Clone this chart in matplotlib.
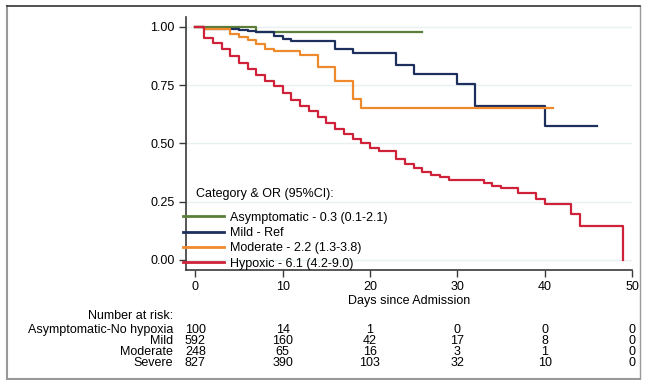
import numpy as np
import matplotlib.pyplot as plt
import matplotlib.transforms as mtransforms
from matplotlib.lines import Line2D

plt.rcParams['font.family'] = ['Liberation Sans', 'DejaVu Sans']

# Kaplan-Meier step data (days, survival)
asym_t = [0, 7, 26]
asym_s = [1.0, 0.977, 0.977]

mild_t = [0, 1, 5, 6, 7, 9, 10, 11, 16, 18, 23, 25, 30, 32, 40, 46]
mild_s = [1.0, 0.99, 0.987, 0.983, 0.976, 0.961, 0.948, 0.937, 0.904, 0.887,
          0.834, 0.798, 0.754, 0.658, 0.575, 0.575]

mod_t = [0, 1, 4, 5, 6, 7, 8, 9, 12, 14, 16, 18, 19, 41]
mod_s = [1.0, 0.99, 0.97, 0.958, 0.941, 0.925, 0.906, 0.894, 0.877, 0.827,
         0.768, 0.69, 0.651, 0.651]

hyp_t = [0, 1, 2, 3, 4, 5, 6, 7, 8, 9, 10, 11, 12, 13, 14, 15, 16, 17, 18, 19,
         20, 21, 23, 24, 25, 26, 27, 28, 29, 33, 34, 35, 37, 39, 40, 43, 44, 49]
hyp_s = [1.0, 0.951, 0.93, 0.904, 0.873, 0.844, 0.818, 0.793, 0.768, 0.744,
         0.715, 0.687, 0.658, 0.637, 0.615, 0.587, 0.56, 0.54, 0.52, 0.5,
         0.48, 0.467, 0.432, 0.412, 0.393, 0.379, 0.365, 0.355, 0.345, 0.329,
         0.318, 0.308, 0.286, 0.262, 0.239, 0.196, 0.147, 0.0]

legend_labels = ['Asymptomatic - 0.3 (0.1-2.1)', 'Mild - Ref',
                 'Moderate - 2.2 (1.3-3.8)', 'Hypoxic - 6.1 (4.2-9.0)']
colors = ['#5b7f3b', '#1d2f5c', '#ef8a2c', '#cf2139']

# number at risk table
risk_days = [0, 10, 20, 30, 40, 50]
risk_rows = ['Asymptomatic-No hypoxia', 'Mild', 'Moderate', 'Severe']
risk_asym = [100, 14, 1, 0, 0, 0]
risk_mild = [592, 160, 42, 17, 8, 0]
risk_mod = [248, 65, 16, 3, 1, 0]
risk_sev = [827, 390, 103, 32, 10, 0]

W, H = 645, 380
fig = plt.figure(figsize=(6.45, 3.8), dpi=100)
ax = fig.add_axes([185.7 / W, 1 - 270 / H, (632 - 185.7) / W, (270 - 16.7) / H])

curves = [(asym_t, asym_s), (mild_t, mild_s), (mod_t, mod_s), (hyp_t, hyp_s)]
for (t, s), c in zip(curves, colors):
    ax.step(t, s, where='post', color=c, lw=1.6, zorder=3)

ax.set_xlim(-1.1, 50)
ax.set_ylim(-0.043, 1.043)
ax.set_yticks([0, 0.25, 0.5, 0.75, 1.0])
ax.set_yticklabels(['0.00', '0.25', '0.50', '0.75', '1.00'])
ax.set_xticks([0, 10, 20, 30, 40, 50])
ax.grid(axis='y', color='#e8f0f2', lw=1.0, zorder=0)
ax.set_axisbelow(True)
for side in ['top', 'right']:
    ax.spines[side].set_visible(False)
for side in ['left', 'bottom']:
    ax.spines[side].set_color('#3a3a3a')
    ax.spines[side].set_linewidth(1.2)
ax.tick_params(axis='both', length=5, width=1.0, color='#3a3a3a',
               labelsize=9, pad=3)
ax.set_xlabel('Days since Admission', fontsize=9, labelpad=1.5)

# legend
handles = [Line2D([], [], color=c, lw=2) for c in colors]
fig.text(196 / W, 1 - 194 / H, 'Category & OR (95%CI):', fontsize=9,
         ha='left', va='center')
ax.legend(handles, legend_labels, loc='upper left',
          bbox_to_anchor=(183 / W, 1 - 211.5 / H), bbox_transform=fig.transFigure,
          frameon=False, fontsize=9, handlelength=3.3, handletextpad=0.5,
          labelspacing=0.27, borderpad=0, borderaxespad=0)

# number at risk
trans = mtransforms.blended_transform_factory(ax.transData, fig.transFigure)
tfont = ['Liberation Sans Narrow', 'Liberation Sans']
fig.text(173 / W, 1 - 316 / H, 'Number at risk:', fontsize=9, family=tfont,
         ha='right', va='center')
row_y = [330, 341, 352, 363]
for name, vals, y in zip(risk_rows, [risk_asym, risk_mild, risk_mod, risk_sev], row_y):
    fig.text(173 / W, 1 - y / H, name, fontsize=9, family=tfont,
             ha='right', va='center')
    for d, v in zip(risk_days, vals):
        ax.text(d, 1 - y / H, str(v), transform=trans, fontsize=9,
                family=tfont, ha='center', va='center', clip_on=False)

# outer frame
fig.add_artist(Line2D([7 / W, 7 / W], [1 - 6 / H, 1 - 379 / H], color='#999999', lw=1.5))
fig.add_artist(Line2D([7 / W, 640 / W], [1 - 379 / H, 1 - 379 / H], color='#999999', lw=1.5))
fig.add_artist(Line2D([640 / W, 640 / W], [1 - 6 / H, 1 - 379 / H], color='#999999', lw=1.0))
fig.add_artist(Line2D([7 / W, 640 / W], [1 - 6 / H, 1 - 6 / H], color='#333333', lw=1.2))

fig.savefig('out.png', dpi=100)
